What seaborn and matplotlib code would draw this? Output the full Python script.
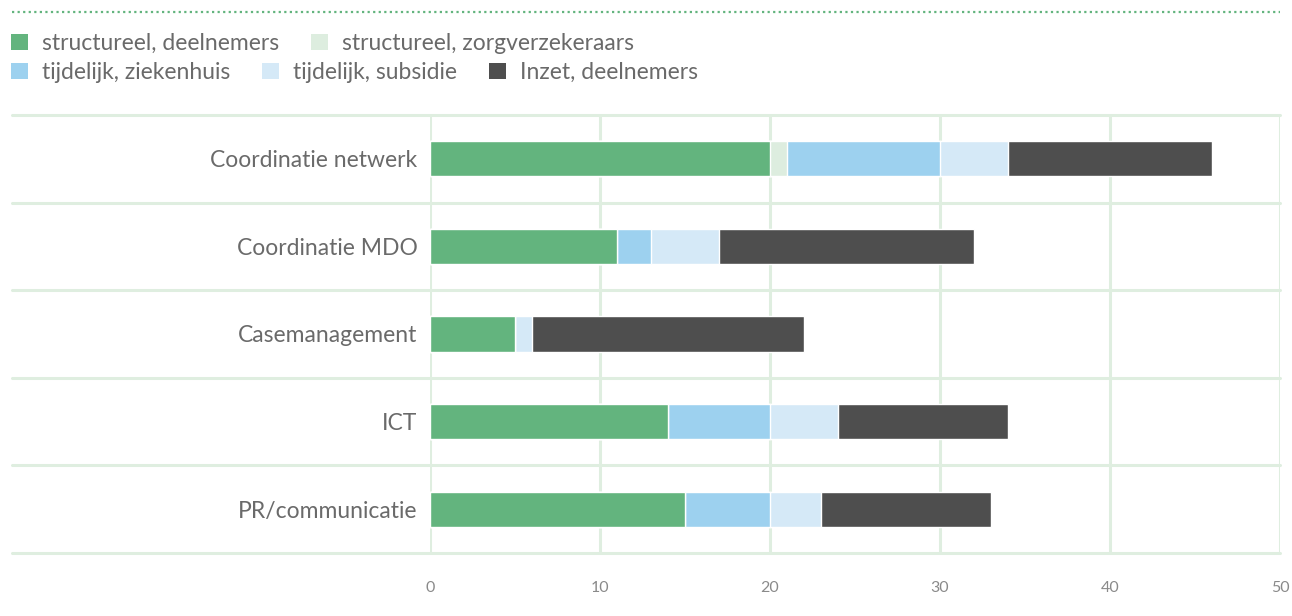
import numpy as np
import pandas as pd
import seaborn as sns
import matplotlib.pyplot as plt
from matplotlib.patches import Patch
from matplotlib.lines import Line2D

# data
categories = ['Coordinatie netwerk', 'Coordinatie MDO', 'Casemanagement', 'ICT', 'PR/communicatie']
structureel_deelnemers = [20, 11, 5, 14, 15]
structureel_zorgverzekeraars = [1, 0, 0, 0, 0]
tijdelijk_ziekenhuis = [9, 2, 0, 6, 5]
tijdelijk_subsidie = [4, 4, 1, 4, 3]
inzet_deelnemers = [12, 15, 16, 10, 10]

series_names = ['structureel, deelnemers', 'structureel, zorgverzekeraars',
                'tijdelijk, ziekenhuis', 'tijdelijk, subsidie', 'Inzet, deelnemers']
colors = ['#63b47e', '#ddeddf', '#9dd1ef', '#d5e9f7', '#4e4e4e']
x_ticks = [0, 10, 20, 30, 40, 50]

sns.set_style('white')
plt.rcParams['font.family'] = ['Lato', 'DejaVu Sans']
plt.rcParams['font.weight'] = 'normal'

df = pd.DataFrame({
    'category': categories,
    series_names[0]: structureel_deelnemers,
    series_names[1]: structureel_zorgverzekeraars,
    series_names[2]: tijdelijk_ziekenhuis,
    series_names[3]: tijdelijk_subsidie,
    series_names[4]: inzet_deelnemers,
})
cum = df[series_names].cumsum(axis=1)

fig = plt.figure(figsize=(12.92, 6.16), dpi=100)
ax = fig.add_axes([430 / 1292, 1 - 553 / 616, 850 / 1292, 438 / 616])

grid_col = '#dfeee0'
for v in x_ticks:
    ax.axvline(v, color=grid_col, lw=2.2, zorder=0)

# stacked bars: draw cumulative totals from last to first
for name, col in reversed(list(zip(series_names, colors))):
    sns.barplot(x=cum[name], y=df['category'], color=col, width=0.4,
                orient='h', ax=ax, saturation=1, zorder=2)

for b in np.arange(-0.5, len(categories), 1.0):
    ax.axhline(b, xmin=(12 - 430) / 850, xmax=1, color=grid_col, lw=2.2,
               clip_on=False, zorder=1)

ax.set_xlim(0, 50)
ax.set_ylim(len(categories) - 0.5, -0.5)
ax.set_xticks(x_ticks)
ax.set_xlabel('')
ax.set_ylabel('')
for s in ax.spines.values():
    s.set_visible(False)
ax.tick_params(axis='y', length=0, pad=9, labelsize=16.5, labelcolor='#6a6a6a')
ax.tick_params(axis='x', length=0, pad=20, labelsize=11.5, labelcolor='#8a8a8a')

# dotted line at top
fig.add_artist(Line2D([12 / 1292, 1280 / 1292], [1 - 12 / 616, 1 - 12 / 616],
                      color='#63b47e', lw=1.6, ls=(0, (1, 1.5)),
                      transform=fig.transFigure))

# legend in two rows
h = [Patch(facecolor=c, edgecolor='none') for c in colors]
leg_kw = dict(frameon=False, fontsize=16.5, handlelength=0.75, handleheight=0.75,
              handletextpad=0.6, columnspacing=1.4, borderaxespad=0,
              labelcolor='#6a6a6a', borderpad=0)
leg1 = fig.legend(h[:2], series_names[:2], ncol=2, loc='upper left',
                  bbox_to_anchor=(11 / 1292, 1 - 33 / 616), **leg_kw)
leg2 = fig.legend(h[2:], series_names[2:], ncol=3, loc='upper left',
                  bbox_to_anchor=(11 / 1292, 1 - 62 / 616), **leg_kw)

fig.savefig('out.png', dpi=100)
